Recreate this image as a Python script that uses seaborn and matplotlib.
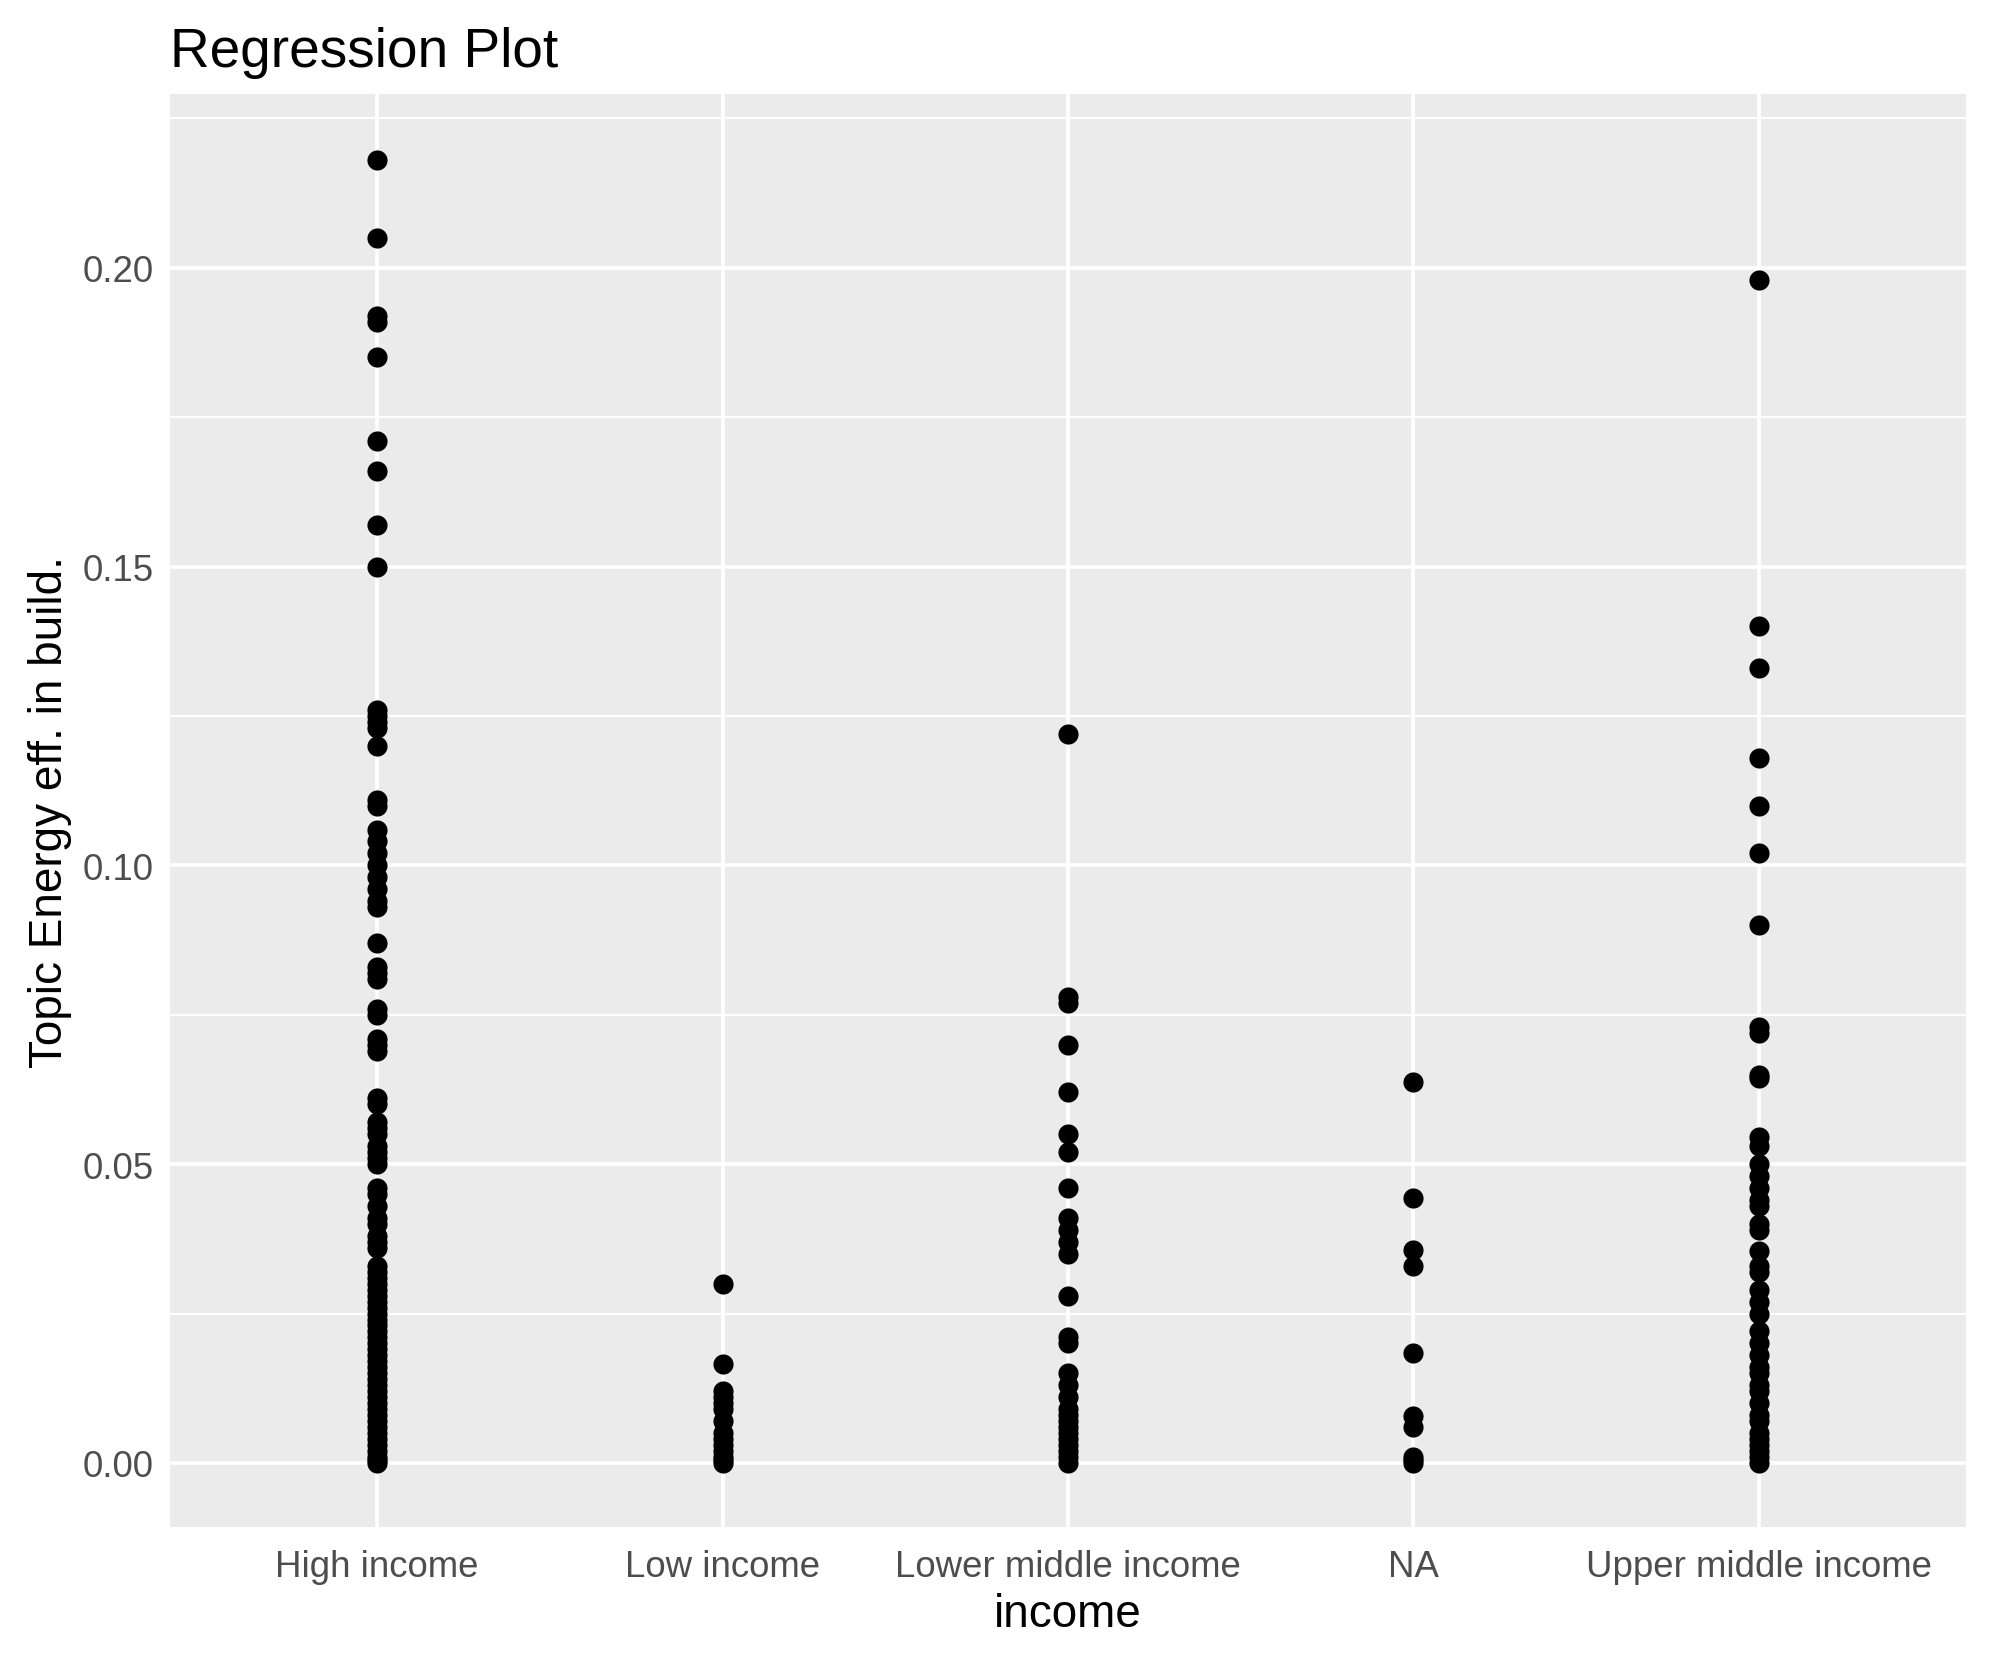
import numpy as np
import pandas as pd
import matplotlib
matplotlib.use("Agg")
import matplotlib.pyplot as plt
import seaborn as sns

# valores (topic share por grupo de renda)
categorias = ["High income", "Low income", "Lower middle income", "NA", "Upper middle income"]

high_income = [
    0.218, 0.205, 0.192, 0.191, 0.185, 0.171, 0.166, 0.157, 0.150,
    0.126, 0.125, 0.124, 0.123, 0.120, 0.111, 0.110, 0.106, 0.104,
    0.102, 0.100, 0.098, 0.096, 0.094, 0.093, 0.087, 0.083, 0.082,
    0.081, 0.076, 0.075, 0.071, 0.070, 0.069, 0.061, 0.060, 0.057,
    0.056, 0.055, 0.053, 0.052, 0.051, 0.050, 0.046, 0.045, 0.043,
    0.041, 0.040, 0.038, 0.037, 0.036, 0.033, 0.032, 0.031, 0.030,
    0.029, 0.028, 0.027, 0.026, 0.025, 0.024, 0.023, 0.022, 0.021,
    0.020, 0.019, 0.018, 0.017, 0.016, 0.015, 0.014, 0.013, 0.012,
    0.011, 0.010, 0.009, 0.008, 0.007, 0.006, 0.005, 0.004, 0.003,
    0.002, 0.001, 0.0005, 0.0,
]
low_income = [0.030, 0.0165, 0.012, 0.011, 0.010, 0.009, 0.007, 0.005,
              0.004, 0.003, 0.002, 0.001, 0.0005, 0.0]
lower_middle = [0.122, 0.078, 0.077, 0.070, 0.062, 0.055, 0.052, 0.046,
                0.041, 0.039, 0.037, 0.035, 0.028, 0.021, 0.020, 0.015,
                0.013, 0.011, 0.009, 0.008, 0.007, 0.006, 0.005, 0.004,
                0.003, 0.002, 0.001, 0.0]
na_income = [0.0637, 0.0443, 0.0357, 0.033, 0.0184, 0.0078, 0.006,
             0.001, 0.0005, 0.0]
upper_middle = [0.198, 0.140, 0.133, 0.118, 0.110, 0.102, 0.090, 0.073,
                0.072, 0.065, 0.0645, 0.0545, 0.053, 0.050, 0.048, 0.046,
                0.044, 0.043, 0.040, 0.039, 0.0355, 0.033, 0.032, 0.029,
                0.027, 0.025, 0.022, 0.020, 0.018, 0.016, 0.015, 0.013,
                0.012, 0.010, 0.008, 0.007, 0.005, 0.004, 0.003, 0.002,
                0.001, 0.0]

yticks = [0.00, 0.05, 0.10, 0.15, 0.20]
ytick_labels = ["0.00", "0.05", "0.10", "0.15", "0.20"]

grupos = [high_income, low_income, lower_middle, na_income, upper_middle]
df = pd.DataFrame({
    "income": np.repeat(categorias, [len(g) for g in grupos]),
    "topic": np.concatenate(grupos),
})

sns.set_style("darkgrid", {"axes.facecolor": "#EBEBEB", "grid.color": "white"})
plt.rcParams["font.family"] = ["Liberation Sans", "DejaVu Sans"]

fig = plt.figure(figsize=(19.9, 16.65), dpi=100)
ax = fig.add_axes([0.0854, 0.082, 0.9026, 0.861])

sns.stripplot(data=df, x="income", y="topic", order=categorias, jitter=False,
              color="black", size=14.5, linewidth=0, ax=ax, zorder=3)

ax.set_xlim(-0.6, 4.6)
ax.set_ylim(-0.0108, 0.2291)
ax.set_yticks(yticks)
ax.set_yticklabels(ytick_labels)
ax.set_yticks([0.025, 0.075, 0.125, 0.175, 0.225], minor=True)

ax.grid(True, which="major", color="white", linewidth=2.6)
ax.grid(True, which="minor", axis="y", color="white", linewidth=1.4)
ax.grid(False, which="minor", axis="x")
ax.set_axisbelow(True)
for s in ax.spines.values():
    s.set_visible(False)

ax.tick_params(axis="both", which="major", length=7.5, width=2.0, color="#333333",
               labelsize=26.4, labelcolor="#4D4D4D", direction="out")
ax.tick_params(axis="x", which="major", pad=8)
ax.tick_params(axis="y", which="major", pad=4)
ax.tick_params(axis="both", which="minor", length=0)

ax.set_xlabel("income", fontsize=33, color="black", labelpad=6)
ax.set_ylabel("Topic Energy eff. in build.", fontsize=33, color="black", labelpad=8)
ax.set_title("Regression Plot", fontsize=39.6, color="black", loc="left", pad=20)

fig.savefig("out.png", dpi=100)
